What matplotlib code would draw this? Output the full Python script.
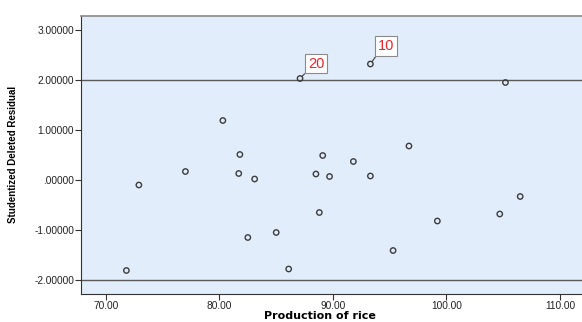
import matplotlib
matplotlib.use("Agg")
import matplotlib.pyplot as plt

production = [72.9, 77.0, 80.3, 81.8, 81.7, 83.1, 82.5, 85.0, 71.8, 86.1,
              87.1, 93.3, 105.2, 96.7, 89.1, 91.8, 88.5, 89.7, 93.3, 106.5,
              88.8, 104.7, 99.2, 95.3]
residual = [-0.10, 0.17, 1.19, 0.51, 0.13, 0.02, -1.15, -1.05, -1.81, -1.78,
            2.03, 2.32, 1.95, 0.68, 0.49, 0.37, 0.12, 0.07, 0.08, -0.33,
            -0.65, -0.68, -0.82, -1.41]
labels = {10: "20", 11: "10"}
ref_lines = [2.0, -2.0]
xticks = [70, 80, 90, 100, 110]
yticks = [3, 2, 1, 0, -1, -2]
ytick_labels = ["3.00000", "2.00000", "1.00000", ".00000", "-1.00000", "-2.00000"]

plt.rcParams['font.family'] = ['Liberation Sans', 'DejaVu Sans']
fig = plt.figure(figsize=(5.82, 3.22), dpi=100)
ax = fig.add_axes([81/582, 1-294/322, 1-81/582+0.003, (294-15.7)/322])
ax.set_facecolor('#E1EDFA')

ax.set_xlim(67.8, 112.1)
ax.set_ylim(-2.28, 3.286)

for r in ref_lines:
    ax.axhline(r, color='#5a5a5a', lw=1.0, zorder=1)

ax.scatter(production, residual, s=15, facecolors='none', edgecolors='#3c3c3c',
           linewidths=1.0, zorder=3)

offsets = {10: (16, 15), 11: (16, 18)}
for i, txt in labels.items():
    ax.annotate(txt, (production[i], residual[i]), xytext=offsets[i],
                textcoords='offset pixels', ha='center', va='center',
                fontsize=10.5, color='#E8252B',
                bbox=dict(boxstyle='square,pad=0.2', fc='white', ec='#8a8a8a', lw=0.8),
                arrowprops=dict(arrowstyle='-', color='#3c3c3c', lw=0.8,
                                relpos=(0, 0), shrinkA=0, shrinkB=2),
                zorder=4)

ax.set_xticks(xticks)
ax.set_xticklabels([f"{v:.2f}" for v in xticks], fontsize=7.3)
ax.set_yticks(yticks)
ax.set_yticklabels(ytick_labels, fontsize=7.3)
ax.tick_params(axis='both', direction='out', length=4, width=0.8, color='#333333',
               labelcolor='#222222', pad=1)

ax.spines['left'].set_color('#333333')
ax.spines['bottom'].set_color('#333333')
ax.spines['top'].set_color('#8a8a8a')
ax.spines['top'].set_linewidth(1.2)
ax.spines['right'].set_visible(False)

ax.set_xlabel("Production of rice", fontsize=8, fontweight='bold',
              family=['DejaVu Sans'])
ax.xaxis.set_label_coords(0.476, -0.06)
ax.set_ylabel("Studentized Deleted Residual", fontsize=7, fontweight='bold',
              labelpad=12)

fig.savefig("out.png", dpi=100)
